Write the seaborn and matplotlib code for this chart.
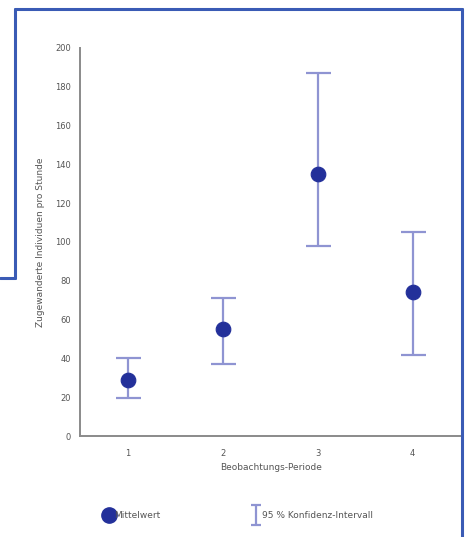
# Mittelwert und 95 % Konfidenz-Intervall je Beobachtungs-Periode

import numpy as np
import pandas as pd
import matplotlib
matplotlib.use("Agg")
import matplotlib.pyplot as plt
from matplotlib.lines import Line2D
from matplotlib.path import Path
import seaborn as sns

# Data
periods = [1, 2, 3, 4]
mean_vals = [29, 55, 135, 74]
ci_low = [19.5, 37, 98, 42]
ci_high = [40, 71, 187, 105]
y_ticks = [0, 20, 40, 60, 80, 100, 120, 140, 160, 180, 200]

df = pd.DataFrame({"Periode": periods, "Mittelwert": mean_vals,
                   "low": ci_low, "high": ci_high})

sns.set_theme(style="white")
plt.rcParams["font.family"] = ["DejaVu Sans"]

point_col = "#23309a"
bar_col = "#8f94d2"
text_col = "#555555"
frame_col = "#3a5bb5"

fig = plt.figure(figsize=(4.67, 5.37), dpi=100)
ax = fig.add_axes([0.171, 0.188, 0.818, 0.723])

# confidence intervals
yerr = np.array([df["Mittelwert"] - df["low"], df["high"] - df["Mittelwert"]])
ax.errorbar(df["Periode"], df["Mittelwert"], yerr=yerr, fmt="none",
            ecolor=bar_col, elinewidth=1.6, capsize=9, capthick=1.6, zorder=2)

# means
sns.scatterplot(data=df, x="Periode", y="Mittelwert", ax=ax, color=point_col,
                s=110, edgecolor=point_col, zorder=3, legend=False)

ax.set_xlim(0.495, 4.52)
ax.set_ylim(0, 200)
ax.set_xticks(periods)
ax.set_yticks(y_ticks)
ax.tick_params(axis="both", labelsize=6, colors=text_col, length=3, width=0.8)
ax.tick_params(axis="x", pad=6)
ax.set_xlabel("Beobachtungs-Periode", fontsize=6.5, color=text_col, labelpad=4)
ax.set_ylabel("Zugewanderte Individuen pro Stunde", fontsize=6.5,
              color=text_col, labelpad=7)

for s in ["top", "right"]:
    ax.spines[s].set_visible(False)
for s in ["left", "bottom"]:
    ax.spines[s].set_color("#8a8a8a")
    ax.spines[s].set_linewidth(1.4)

# legend below the plot
i_path = Path([(-0.5, -1), (0.5, -1), (0, -1), (0, 1), (-0.5, 1), (0.5, 1)],
              [Path.MOVETO, Path.LINETO, Path.MOVETO, Path.LINETO,
               Path.MOVETO, Path.LINETO])
mean_handle = Line2D([], [], marker="o", linestyle="none", color=point_col,
                     markersize=11, label="Mittelwert")
ci_handle = Line2D([], [], marker=i_path, linestyle="none", markersize=14,
                   markerfacecolor="none", markeredgecolor=bar_col,
                   markeredgewidth=1.6, label="95 % Konfidenz-Intervall")
fig.legend(handles=[mean_handle, ci_handle], loc="center", ncol=2,
           bbox_to_anchor=(0.51, 0.04), frameon=False, fontsize=6.5,
           labelcolor=text_col, handletextpad=0.0, columnspacing=10,
           handlelength=1.2)

# blue frame of the scanned page
lw = 2.2
fig.add_artist(Line2D([0.032, 0.989], [0.983, 0.983], color=frame_col, lw=lw))
fig.add_artist(Line2D([0.032, 0.032], [0.983, 0.482], color=frame_col, lw=lw))
fig.add_artist(Line2D([0.0, 0.032], [0.482, 0.482], color=frame_col, lw=lw))
fig.add_artist(Line2D([0.989, 0.989], [0.983, 0.0], color=frame_col, lw=lw))

fig.savefig("out.png", dpi=100, facecolor="white")
